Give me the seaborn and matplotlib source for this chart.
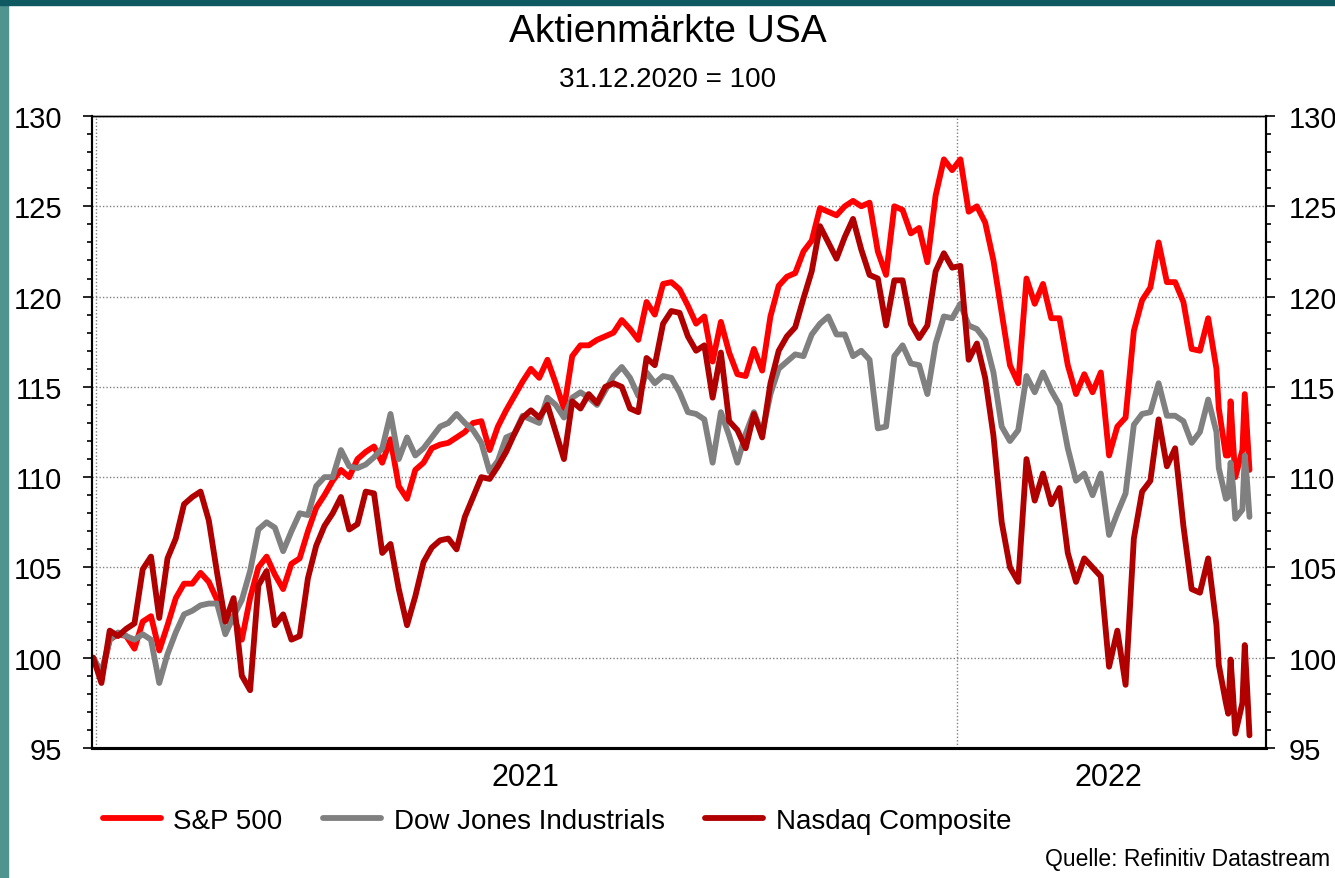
import pandas as pd
import seaborn as sns
import matplotlib.pyplot as plt
import matplotlib.dates as mdates
from matplotlib.patches import Rectangle
from matplotlib.ticker import MultipleLocator, FixedLocator, FixedFormatter, NullFormatter

# Daten: 31.12.2020 = 100, ca. alle 3,5 Tage, ab 22.04.2022 börsentäglich
dates = list(pd.date_range('2020-12-31', periods=137, freq='84h')) + \
    list(pd.bdate_range('2022-04-22', '2022-05-05'))

sp500 = [100.0, 99.0, 101.0, 101.3, 101.2, 100.5, 102.0, 102.3, 100.4, 101.8,
         103.3, 104.1, 104.1, 104.7, 104.2, 103.2, 102.0, 102.3, 101.0, 103.3,
         105.0, 105.6, 104.6, 103.8, 105.2, 105.5, 107.0, 108.3, 109.0, 109.8,
         110.4, 110.0, 111.0, 111.4, 111.7, 110.8, 112.1, 109.5, 108.8, 110.4,
         110.8, 111.6, 111.8, 111.9, 112.2, 112.5, 113.0, 113.1, 111.5, 112.8,
         113.7, 114.5, 115.3, 116.0, 115.5, 116.5, 115.2, 113.8, 116.7, 117.3,
         117.3, 117.6, 117.8, 118.0, 118.7, 118.2, 117.6, 119.7, 119.0, 120.7,
         120.8, 120.4, 119.5, 118.5, 118.9, 116.4, 118.6, 116.9, 115.7, 115.6,
         117.1, 115.9, 118.9, 120.6, 121.1, 121.3, 122.5, 123.1, 124.9, 124.7,
         124.5, 125.0, 125.3, 125.0, 125.2, 122.5, 121.2, 125.0, 124.8, 123.5,
         123.8, 121.9, 125.6, 127.6, 127.0, 127.6, 124.7, 125.0, 124.1, 122.0,
         119.1, 116.2, 115.2, 121.0, 119.6, 120.7, 118.8, 118.8, 116.2, 114.6,
         115.7, 114.7, 115.8, 111.2, 112.8, 113.3, 118.1, 119.8, 120.5, 123.0,
         120.8, 120.8, 119.7, 117.1, 117.0, 118.8, 116.0,
         113.8, 111.2, 111.2, 114.2, 112.0, 110.0, 111.5, 114.6, 112.5, 110.4]

dow = [100.0, 99.2, 101.0, 101.4, 101.2, 101.0, 101.3, 101.0, 98.6, 100.2,
       101.4, 102.4, 102.6, 102.9, 103.0, 103.0, 101.3, 102.3, 103.2, 104.8,
       107.1, 107.5, 107.2, 105.9, 107.0, 108.0, 107.9, 109.5, 110.0, 110.0,
       111.5, 110.6, 110.5, 110.7, 111.1, 111.6, 113.5, 111.0, 112.2, 111.2,
       111.6, 112.2, 112.8, 113.0, 113.5, 113.0, 112.6, 111.9, 110.3, 110.9,
       112.2, 112.4, 113.4, 113.2, 113.0, 114.4, 114.0, 113.3, 114.4, 114.7,
       114.4, 114.0, 114.8, 115.6, 116.1, 115.5, 114.5, 115.8, 115.2, 115.6,
       115.5, 114.7, 113.6, 113.5, 113.2, 110.8, 113.6, 112.3, 110.8, 112.4,
       113.6, 112.4, 114.6, 116.0, 116.4, 116.8, 116.7, 117.9, 118.5, 118.9,
       117.9, 117.9, 116.7, 117.0, 116.5, 112.7, 112.8, 116.7, 117.3, 116.3,
       116.2, 114.6, 117.4, 118.9, 118.8, 119.6, 118.4, 118.2, 117.6, 115.8,
       112.8, 112.0, 112.6, 115.6, 114.7, 115.8, 114.8, 114.0, 111.6, 109.8,
       110.2, 109.0, 110.2, 106.8, 108.0, 109.1, 112.9, 113.5, 113.6, 115.2,
       113.4, 113.4, 113.1, 111.9, 112.5, 114.3, 112.5,
       110.5, 108.8, 108.9, 110.8, 109.5, 107.7, 108.2, 111.2, 109.7, 107.8]

nasdaq = [100.0, 98.6, 101.5, 101.2, 101.6, 101.9, 104.9, 105.6, 102.2, 105.5,
          106.6, 108.5, 108.9, 109.2, 107.6, 104.7, 102.0, 103.3, 99.0, 98.2,
          104.0, 104.8, 101.8, 102.4, 101.0, 101.2, 104.4, 106.2, 107.3, 108.0,
          108.9, 107.1, 107.4, 109.2, 109.1, 105.8, 106.3, 103.8, 101.8, 103.4,
          105.3, 106.1, 106.5, 106.6, 106.0, 107.8, 108.9, 110.0, 109.9, 110.6,
          111.4, 112.4, 113.3, 113.7, 113.3, 114.0, 112.5, 111.0, 114.2, 113.8,
          114.6, 114.1, 115.0, 115.2, 115.0, 113.8, 113.6, 116.6, 116.2, 118.5,
          119.2, 119.1, 117.8, 117.0, 117.3, 114.4, 116.9, 113.1, 112.6, 111.6,
          113.5, 112.2, 115.2, 117.0, 117.8, 118.3, 119.9, 121.4, 123.9, 123.0,
          122.1, 123.3, 124.3, 122.6, 121.2, 121.0, 118.4, 120.9, 120.9, 118.5,
          117.7, 118.4, 121.4, 122.4, 121.6, 121.7, 116.5, 117.4, 115.5, 112.3,
          107.5, 105.0, 104.2, 111.0, 108.7, 110.2, 108.5, 109.4, 105.8, 104.2,
          105.5, 105.0, 104.5, 99.5, 101.5, 98.5, 106.6, 109.2, 109.8, 113.2,
          110.6, 111.6, 107.3, 103.8, 103.6, 105.5, 101.8,
          99.6, 97.5, 96.9, 99.9, 98.0, 95.8, 97.5, 100.7, 98.3, 95.7]

series_names = ['S&P 500', 'Dow Jones Industrials', 'Nasdaq Composite']
colors = {'S&P 500': '#ff0000', 'Dow Jones Industrials': '#808080',
          'Nasdaq Composite': '#b00000'}
quarter_months = [1, 4, 7, 10]
year_lines = ['2021-01-01', '2022-01-01']
year_label_pos = ['2021-07-02', '2022-03-06']
year_labels = ['2021', '2022']

df = pd.DataFrame({'Datum': dates, 'S&P 500': sp500,
                   'Dow Jones Industrials': dow, 'Nasdaq Composite': nasdaq})
long = df.melt(id_vars='Datum', var_name='Index', value_name='Wert')

sns.set_style('white')
plt.rcParams['font.family'] = ['Liberation Sans', 'DejaVu Sans']
plt.rcParams['text.color'] = 'black'
plt.rcParams['xtick.color'] = 'black'
plt.rcParams['ytick.color'] = 'black'
plt.rcParams['axes.labelcolor'] = 'black'

fig = plt.figure(figsize=(13.35, 8.79), dpi=100)
# teal background strip at the edges
fig.add_artist(Rectangle((0, 0), 8 / 1335, 1, transform=fig.transFigure,
                         color='#4f948f', zorder=-1))
fig.add_artist(Rectangle((0, 1 - 6 / 879), 1, 6 / 879, transform=fig.transFigure,
                         color='#0f5963', zorder=-1))

ax = fig.add_axes([92 / 1335, 1 - 749 / 879, 1174 / 1335, 632 / 879])
sns.lineplot(data=long, x='Datum', y='Wert', hue='Index', hue_order=series_names,
             palette=colors, linewidth=4.2, estimator=None, ax=ax)

handles, labels = ax.get_legend_handles_labels()
ax.get_legend().remove()
fig.legend(handles, labels, loc='center', bbox_to_anchor=(557 / 1335, 1 - 822 / 879),
           ncol=3, frameon=False, fontsize=20, handlelength=2.1,
           handletextpad=0.45, columnspacing=1.45)

ax.set_xlim(pd.Timestamp('2020-12-30 12:00'), pd.Timestamp('2022-05-12'))
ax.set_ylim(95, 130)
ax.set_xlabel('')
ax.set_ylabel('')

# grid
ax.set_axisbelow(True)
ax.grid(axis='y', which='major', linestyle=(0, (1, 1.5)), color='#808080', linewidth=1)
for d in year_lines:
    ax.axvline(pd.Timestamp(d), linestyle=(0, (1, 1.5)), color='#808080', linewidth=1, zorder=0)

# x axis: quarter ticks, year labels in between
ax.xaxis.set_major_locator(mdates.MonthLocator(bymonth=quarter_months))
ax.xaxis.set_major_formatter(NullFormatter())
ax.xaxis.set_minor_locator(FixedLocator(mdates.date2num(pd.to_datetime(year_label_pos))))
ax.xaxis.set_minor_formatter(FixedFormatter(year_labels))
ax.tick_params(axis='x', which='major', direction='out', length=6, width=1.5, color='black')
ax.tick_params(axis='x', which='minor', length=0, pad=10, labelsize=22)

# left y axis
ax.yaxis.set_major_locator(MultipleLocator(5))
ax.yaxis.set_minor_locator(MultipleLocator(1))
ax.tick_params(axis='y', which='major', left=True, right=False, direction='out',
               length=6.5, width=1.2, pad=15, labelsize=21, color='black')
ax.tick_params(axis='y', which='minor', left=True, right=False, direction='out',
               length=3.6, width=1.2, color='black')

# right y axis
ax2 = ax.twinx()
ax2.set_ylim(95, 130)
ax2.yaxis.set_major_locator(MultipleLocator(5))
ax2.yaxis.set_minor_locator(MultipleLocator(1))
ax2.tick_params(axis='y', which='major', right=True, direction='out',
                length=6.5, width=1.2, pad=10, labelsize=21, color='black')
ax2.tick_params(axis='y', which='minor', right=True, direction='out',
                length=3.6, width=1.2, color='black')

for a in (ax, ax2):
    for side, lw in (('left', 1.5), ('right', 1.5), ('top', 1.0), ('bottom', 2.2)):
        a.spines[side].set_visible(True)
        a.spines[side].set_color('black')
        a.spines[side].set_linewidth(lw)

fig.text(0.5, 1 - 32 / 879, 'Aktienmärkte USA', ha='center', va='center', fontsize=28)
fig.text(0.5, 1 - 80 / 879, '31.12.2020 = 100', ha='center', va='center', fontsize=20)
fig.text(1330 / 1335, 1 - 860 / 879, 'Quelle: Refinitiv Datastream',
         ha='right', va='center', fontsize=16.5)

fig.savefig('out.png', dpi=100)
